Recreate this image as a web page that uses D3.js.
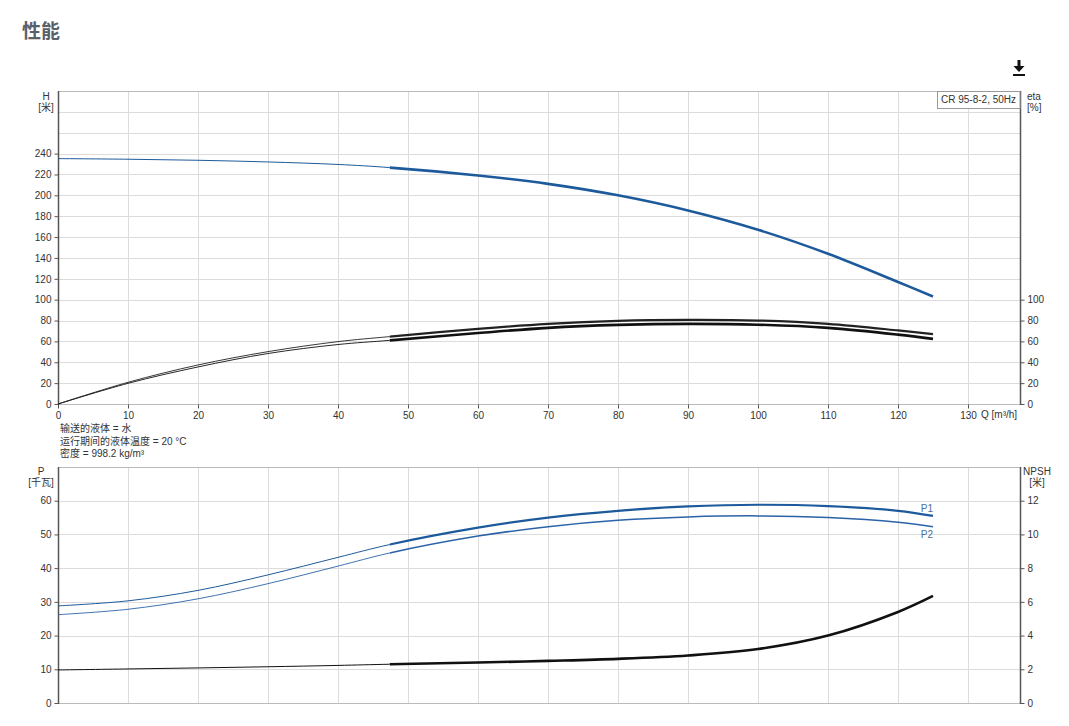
<!DOCTYPE html>
<html><head><meta charset="utf-8">
<script src="https://cdn.jsdelivr.net/npm/d3@7"></script>
<style>
body{margin:0;background:#fff;font-family:"Liberation Sans",Arial,"Noto Sans CJK SC",sans-serif;}
svg text{font-family:"Liberation Sans",Arial,"Noto Sans CJK SC",sans-serif;}
</style></head>
<body>
<svg id="c" width="1069" height="726"></svg>
<script>
// ---- data ----
const qPoints = [0,10,20,30,40,47.4,60,70,80,90,100,110,120,125];
const headH   = [235.2,234.6,233.6,232,229.6,226.6,219,211,200,185.5,167,144,117,103];
const etaUpper= [0,20.8,37.4,50.2,59.8,64.6,72,76.8,79.7,80.6,80,76.8,70.5,66.9];
const etaLower= [0,19.8,35.5,48.4,57,61,68,73,75.8,76.8,76,73,66.5,62.4];
const powerP1 = [28.8,30.3,33.4,38,43.2,47,52,55,57,58.3,58.8,58.4,57,55.5];
const powerP2 = [26.2,27.8,30.9,35.4,40.6,44.5,49.5,52.3,54.2,55.2,55.5,55,53.6,52.3];
const npshR   = [1.96,2.02,2.08,2.15,2.23,2.3,2.4,2.5,2.62,2.82,3.2,4.0,5.4,6.35];
const qSplit = 47.4;
const xTicks = [0,10,20,30,40,50,60,70,80,90,100,110,120,130];
const hTicks = [0,20,40,60,80,100,120,140,160,180,200,220,240];
const etaTicks = [0,20,40,60,80,100];
const pTicks = [0,10,20,30,40,50,60];
const npshTicks = [0,2,4,6,8,10,12];
const infoLines = ["输送的液体 = 水","运行期间的液体温度 = 20 °C","密度 = 998.2 kg/m³"];
const legendText = "CR 95-8-2, 50Hz";

// ---- layout ----
const svg = d3.select("#c");
const L = 58, R = 1020;
const x = d3.scaleLinear().domain([0,137.43]).range([L,R]);
const top1 = 91, bot1 = 404, top2 = 467, bot2 = 703;
const yH = d3.scaleLinear().domain([0,300]).range([bot1,top1]);
const yEta = d3.scaleLinear().domain([0,300]).range([bot1,top1]);
const yP = d3.scaleLinear().domain([0,70]).range([bot2,top2]);
const yN = d3.scaleLinear().domain([0,14]).range([bot2,top2]);
const gridC = "#dcdcdc", axisC = "#555", textC = "#333";

const defs = svg.append("defs");
defs.append("clipPath").attr("id","clipA").append("rect")
  .attr("x",0).attr("y",0).attr("width",x(qSplit)).attr("height",726);
defs.append("clipPath").attr("id","clipB").append("rect")
  .attr("x",x(qSplit)).attr("y",0).attr("width",1069-x(qSplit)).attr("height",726);

svg.append("text").attr("x",22).attr("y",38).text("性能")
  .attr("font-size",19).attr("font-weight","bold").attr("fill","#5b6068")
  .style("font-family","'Noto Sans CJK SC',sans-serif");
const dl = svg.append("g").attr("fill","#111");
dl.append("rect").attr("x",1017.5).attr("y",60).attr("width",3).attr("height",7);
dl.append("path").attr("d","M1013.5,66 L1024.5,66 L1019,72 Z");
dl.append("rect").attr("x",1013).attr("y",74).attr("width",12).attr("height",2);

function panel(yL, yTop, yBot, gridVals, leftTicks, yR, rightTicks, showX){
  const g = svg.append("g");
  g.selectAll(".hg").data(gridVals).enter().append("line")
    .attr("x1",L).attr("x2",R).attr("y1",d=>Math.round(yL(d))+0.5).attr("y2",d=>Math.round(yL(d))+0.5)
    .attr("stroke",gridC).attr("stroke-width",1);
  g.selectAll(".vg").data(xTicks.filter(d=>d>0)).enter().append("line")
    .attr("x1",d=>Math.round(x(d))+0.5).attr("x2",d=>Math.round(x(d))+0.5).attr("y1",yTop).attr("y2",yBot)
    .attr("stroke",gridC).attr("stroke-width",1);
  g.append("line").attr("x1",L).attr("x2",R).attr("y1",yTop+0.5).attr("y2",yTop+0.5).attr("stroke","#bbb");
  g.append("line").attr("x1",L).attr("x2",R).attr("y1",yBot+0.5).attr("y2",yBot+0.5).attr("stroke","#bbb");
  const la = g.append("g").attr("transform",`translate(${L+0.5},0)`)
    .call(d3.axisLeft(yL).tickValues(leftTicks).tickSize(4).tickSizeOuter(0).tickPadding(3));
  la.select(".domain").remove();
  g.append("line").attr("x1",L+0.5).attr("x2",L+0.5).attr("y1",yTop).attr("y2",yBot+1).attr("stroke",axisC).attr("stroke-width",1.5);
  const ra = g.append("g").attr("transform",`translate(${R+0.5},0)`)
    .call(d3.axisRight(yR).tickValues(rightTicks).tickSize(4).tickSizeOuter(0).tickPadding(3));
  ra.select(".domain").remove();
  g.append("line").attr("x1",R+0.5).attr("x2",R+0.5).attr("y1",yTop).attr("y2",yBot+1).attr("stroke",axisC).attr("stroke-width",1.5);
  if(showX){
    const xa = g.append("g").attr("transform",`translate(0,${yBot+0.5})`)
      .call(d3.axisBottom(x).tickValues(xTicks).tickSize(4).tickSizeOuter(0).tickPadding(3));
    xa.select(".domain").remove();
  }
  g.selectAll(".tick text").attr("font-size",10).attr("fill",textC).style("font-family","'Liberation Sans',Arial,sans-serif");
  g.selectAll(".tick line").attr("stroke",axisC);
  return g;
}
panel(yH, top1, bot1, d3.range(0,301,20), hTicks, yEta, etaTicks, true);
panel(yP, top2, bot2, d3.range(0,71,10), pTicks, yN, npshTicks, false);

function label2(xp, y1, t1, t2, anchor){
  svg.append("text").attr("x",xp).attr("y",y1).text(t1).attr("font-size",10).attr("fill",textC).attr("text-anchor",anchor);
  svg.append("text").attr("x",xp).attr("y",y1+11).text(t2).attr("font-size",10).attr("fill",textC).attr("text-anchor",anchor)
    .style("font-family","'Liberation Sans','Noto Sans CJK SC',sans-serif");
}
label2(46,100,"H","[米]","middle");
label2(1027,100,"eta","[%]","start");
label2(41,475,"P","[千瓦]","middle");
label2(1037,475,"NPSH","[米]","middle");
svg.append("text").attr("x",981).attr("y",418).text("Q [m³/h]").attr("font-size",10).attr("fill",textC);

const lg = svg.append("g");
lg.append("rect").attr("x",937.5).attr("y",91.5).attr("width",R-937.5).attr("height",17)
  .attr("fill","#fff").attr("stroke","#999");
lg.append("text").attr("x",941).attr("y",103).text(legendText).attr("font-size",10).attr("fill",textC);

infoLines.forEach((t,i)=>{
  svg.append("text").attr("x",60).attr("y",432+i*12.5).text(t).attr("font-size",10).attr("fill",textC)
   .style("font-family","'Liberation Sans','Noto Sans CJK SC',sans-serif");
});

function drawCurve(vals, yS, color, thin, thick){
  const pts = qPoints.map((q,i)=>[q,vals[i]]);
  const line = d3.line().x(d=>x(d[0])).y(d=>yS(d[1])).curve(d3.curveCatmullRom.alpha(0.5));
  const d = line(pts);
  svg.append("path").attr("d",d).attr("fill","none").attr("stroke",color).attr("stroke-width",thin).attr("clip-path","url(#clipA)");
  svg.append("path").attr("d",d).attr("fill","none").attr("stroke",color).attr("stroke-width",thick).attr("clip-path","url(#clipB)");
}
drawCurve(headH, yH, "#1d5a9c", 1, 2.6);
drawCurve(etaUpper, yEta, "#222", 0.9, 2.2);
drawCurve(etaLower, yEta, "#111", 0.9, 2.6);
drawCurve(powerP1, yP, "#1d5a9c", 1, 2.2);
drawCurve(powerP2, yP, "#2a63a8", 0.9, 1.5);
drawCurve(npshR, yN, "#111", 1, 2.6);

svg.append("text").attr("x",x(125)).attr("y",yP(powerP1[powerP1.length-1])-4).text("P1")
  .attr("font-size",10).attr("fill","#4a6f9a").attr("text-anchor","end");
svg.append("text").attr("x",x(125)).attr("y",yP(powerP2[powerP2.length-1])+11).text("P2")
  .attr("font-size",10).attr("fill","#4a6f9a").attr("text-anchor","end");
</script>
</body></html>
